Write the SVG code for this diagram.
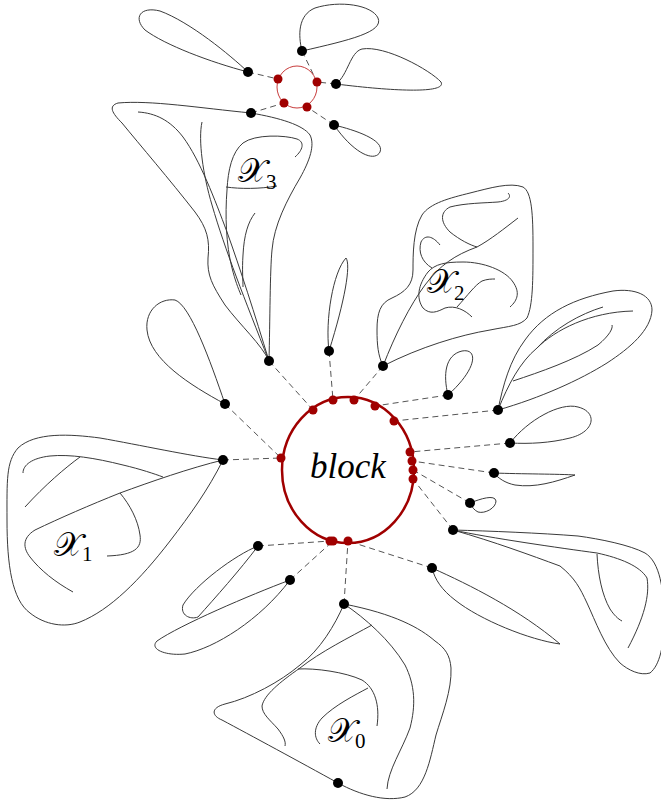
<svg xmlns="http://www.w3.org/2000/svg" width="661" height="804" viewBox="0 0 661 804">
<style>
.c{fill:none;stroke:#3a3a3a;stroke-width:1}
.d{fill:none;stroke:#555;stroke-width:1;stroke-dasharray:6 4}
.bk{fill:#000}
.rd{fill:#a00000}
.lbl{font-family:"DejaVu Serif","DejaVu Sans",serif;font-size:33px;fill:#000}
.sub{font-family:"Liberation Serif",serif;font-size:21px;fill:#000}
</style>
<rect width="661" height="804" fill="#fff"/>
<g id="connectors">
<line class="d" x1="269" y1="361" x2="313" y2="410"/>
<line class="d" x1="329" y1="351" x2="333" y2="400"/>
<line class="d" x1="383" y1="366" x2="354" y2="400"/>
<line class="d" x1="448" y1="395" x2="375" y2="406"/>
<line class="d" x1="498" y1="410" x2="394" y2="421"/>
<line class="d" x1="510" y1="443" x2="410" y2="452"/>
<line class="d" x1="494" y1="473" x2="412" y2="461"/>
<line class="d" x1="470" y1="503" x2="413" y2="470"/>
<line class="d" x1="453" y1="530" x2="413" y2="479"/>
<line class="d" x1="225" y1="404" x2="281" y2="458"/>
<line class="d" x1="223" y1="460" x2="281" y2="458"/>
<line class="d" x1="258" y1="546" x2="330" y2="541"/>
<line class="d" x1="290" y1="580" x2="333" y2="541"/>
<line class="d" x1="344" y1="604" x2="348" y2="541"/>
<line class="d" x1="432" y1="568" x2="348" y2="541"/>
<line class="d" x1="302" y1="51" x2="317" y2="82"/>
<line class="d" x1="248" y1="72" x2="278" y2="79"/>
<line class="d" x1="336" y1="84" x2="317" y2="82"/>
<line class="d" x1="251" y1="113" x2="284" y2="103"/>
<line class="d" x1="334" y1="125" x2="307" y2="107"/>
</g>
<g id="block">
<ellipse cx="348" cy="470" rx="66" ry="73" fill="none" stroke="#a00000" stroke-width="2.5"/>
<text x="348" y="478" text-anchor="middle" font-family="Liberation Serif,serif" font-style="italic" font-size="35">block</text>
<circle class="rd" cx="313" cy="410" r="4.5"/>
<circle class="rd" cx="333" cy="400" r="4.5"/>
<circle class="rd" cx="354" cy="400" r="4.5"/>
<circle class="rd" cx="375" cy="406" r="4.5"/>
<circle class="rd" cx="394" cy="421" r="4.5"/>
<circle class="rd" cx="281" cy="458" r="4.5"/>
<circle class="rd" cx="410" cy="452" r="4.5"/>
<circle class="rd" cx="412" cy="461" r="4.5"/>
<circle class="rd" cx="413" cy="470" r="4.5"/>
<circle class="rd" cx="413" cy="479" r="4.5"/>
<circle class="rd" cx="330" cy="541" r="4.5"/>
<circle class="rd" cx="333" cy="541" r="4.5"/>
<circle class="rd" cx="348" cy="541" r="4.5"/>
</g>
<g id="small-block">
<ellipse cx="297" cy="87" rx="20" ry="21" fill="none" stroke="#c83c3c" stroke-width="1"/>
<circle class="rd" cx="278" cy="79" r="4.5"/>
<circle class="rd" cx="317" cy="82" r="4.5"/>
<circle class="rd" cx="284" cy="103" r="4.5"/>
<circle class="rd" cx="307" cy="107" r="4.5"/>
</g>
<g id="loop-top-left">
<path class="c" d="M248,72 C230,55 190,22 160,11 C140,6 133,18 145,30 C165,45 210,62 248,72"/>
<circle class="bk" cx="248" cy="72" r="5"/>
</g>
<g id="loop-top">
<path class="c" d="M302,51 C298,35 298,15 315,8 C340,0 372,5 378,18 C384,32 350,40 302,51"/>
<circle class="bk" cx="302" cy="51" r="5"/>
</g>
<g id="loop-top-right">
<path class="c" d="M336,84 C348,75 350,52 362,49 C385,45 430,70 441,82 C447,93 400,92 336,84"/>
<circle class="bk" cx="336" cy="84" r="5"/>
</g>
<g id="loop-small-top">
<path class="c" d="M334,125 C355,130 385,140 380,152 C375,162 355,155 334,125"/>
<circle class="bk" cx="334" cy="125" r="5"/>
</g>
<g id="X3">
<path class="c" d="M251,113 C200,108 150,100 118,103 C108,106 112,113 122,123 C140,145 170,180 195,212 C207,228 210,240 208,258 C207,275 212,285 225,305 C240,325 262,345 269,361 C270,320 270,270 272,250 C274,225 287,200 300,178 C310,160 315,145 310,135 C303,125 280,118 251,113"/>
<path class="c" d="M138,112 C155,113 170,120 183,137 C200,160 215,200 227,232 C240,268 255,315 269,361"/>
<path class="c" d="M202,122 C198,140 203,175 212,205 C225,250 245,300 269,361"/>
<path class="c" d="M295,157 C303,150 305,142 297,139 C285,135 255,134 243,143 C232,152 228,170 227,190 C225,215 226,245 232,268 C235,280 238,288 241,295"/>
<path class="c" d="M255,213 C248,222 244,235 243,255 C242,270 243,280 243,287"/>
<path class="c" d="M226,187 C240,189 260,189 277,186"/>
<text class="lbl" x="238" y="182">𝒳</text><text class="sub" x="266" y="189">3</text>
<circle class="bk" cx="251" cy="113" r="5"/>
<circle class="bk" cx="269" cy="361" r="5"/>
</g>
<g id="X2">
<path class="c" d="M383,366 C378,355 377,345 377,330 C377,313 380,303 392,298 C405,292 413,285 413,270 C413,255 413,230 422,215 C430,203 450,198 470,193 C490,188 510,182 523,187 C532,192 533,215 533,247 C533,280 533,305 527,318 C520,326 510,326 490,330 C460,335 420,347 383,366"/>
<path class="c" d="M383,366 C395,335 410,305 425,285 C440,265 455,255 477,247 C490,240 505,228 518,218"/>
<path class="c" d="M508,193 C512,197 508,201 498,202 C485,203 465,203 450,207 C440,212 440,222 450,232 C460,240 470,245 477,247"/>
<path class="c" d="M440,245 C433,236 425,234 421,242 C418,252 422,262 432,268"/>
<path class="c" d="M472,317 C465,310 455,305 445,308 C437,312 430,315 423,308 C416,298 418,285 428,272 C435,264 445,262 463,262 C483,262 505,270 513,282 C520,292 518,300 510,307"/>
<path class="c" d="M457,307 C468,295 475,285 482,281 C487,279 492,279 495,279"/>
<text class="lbl" x="427" y="293">𝒳</text><text class="sub" x="454" y="300">2</text>
<circle class="bk" cx="383" cy="366" r="5"/>
</g>
<g id="loop-thin">
<path class="c" d="M329,351 C325,320 333,272 346,258 C351,265 345,300 329,351"/>
<circle class="bk" cx="329" cy="351" r="5"/>
</g>
<g id="loop-left">
<path class="c" d="M225,404 C190,385 150,360 147,330 C145,310 160,298 175,300 C190,305 210,360 225,404"/>
<circle class="bk" cx="225" cy="404" r="5"/>
</g>
<g id="X1">
<path class="c" d="M223,460 C190,456 140,445 100,438 C70,434 35,432 18,448 C6,462 7,480 7,520 C7,565 12,600 30,613 C45,625 65,628 80,622 C110,610 140,580 170,541 C190,515 208,490 223,460"/>
<path class="c" d="M223,460 C190,468 150,482 120,493 C90,505 60,518 35,530 C22,538 23,548 30,557 C40,570 55,582 73,592"/>
<path class="c" d="M23,473 C23,465 32,458 50,456 C70,454 95,458 123,465 C140,469 155,474 163,477"/>
<path class="c" d="M80,457 C65,468 45,485 25,507"/>
<path class="c" d="M120,493 C130,505 138,520 140,535 C142,548 135,555 107,556"/>
<text class="lbl" x="54" y="556">𝒳</text><text class="sub" x="82" y="561">1</text>
<circle class="bk" cx="223" cy="460" r="5"/>
</g>
<g id="loop-lower-left-1">
<path class="c" d="M258,546 C235,555 195,585 183,605 C180,615 190,620 198,617 C215,598 240,570 258,546"/>
<circle class="bk" cx="258" cy="546" r="5"/>
</g>
<g id="loop-lower-left-2">
<path class="c" d="M290,580 C250,595 180,625 157,641 C149,649 165,656 185,654 C215,648 260,620 290,580"/>
<circle class="bk" cx="290" cy="580" r="5"/>
</g>
<g id="X0">
<path class="c" d="M344,604 C335,625 320,650 300,665 C280,682 250,698 225,704 C210,708 212,716 222,720 C250,735 300,762 338,783 C360,795 385,802 405,797 C425,790 430,760 436,735 C442,715 452,690 451,668 C450,655 445,648 435,641 C420,628 395,614 344,604"/>
<path class="c" d="M344,604 C365,618 390,640 405,665 C415,685 416,705 410,728 C402,750 388,770 387,789"/>
<path class="c" d="M372,625 C350,637 320,652 300,668 C280,682 264,695 262,706 C262,714 270,720 278,729 C284,737 286,742 285,746"/>
<path class="c" d="M298,669 C315,668 345,672 362,680 C375,688 380,705 377,726"/>
<path class="c" d="M368,688 C355,695 335,705 322,718 C313,728 314,738 320,744"/>
<text class="lbl" x="328" y="742">𝒳</text><text class="sub" x="355" y="748">0</text>
<circle class="bk" cx="344" cy="604" r="5"/>
<circle class="bk" cx="338" cy="783" r="5"/>
</g>
<g id="loop-right-small">
<path class="c" d="M448,395 C443,375 445,355 462,351 C478,348 478,368 448,395"/>
<circle class="bk" cx="448" cy="395" r="5"/>
</g>
<g id="loop-right-big">
<path class="c" d="M498,410 C503,385 510,360 525,340 C545,312 575,298 613,291 C635,288 652,295 652,310 C651,330 630,348 607,363 C580,380 540,398 498,410"/>
<path class="c" d="M498,410 C508,385 520,362 537,348 C555,330 590,312 633,311"/>
<path class="c" d="M537,348 C555,328 580,314 603,307"/>
<path class="c" d="M513,381 C540,372 575,360 598,345 C610,335 613,328 612,325"/>
<circle class="bk" cx="498" cy="410" r="5"/>
</g>
<g id="loop-right-2">
<path class="c" d="M510,443 C528,420 560,402 578,407 C598,412 595,432 570,438 C550,443 530,444 510,443"/>
<circle class="bk" cx="510" cy="443" r="5"/>
</g>
<g id="loop-right-3">
<path class="c" d="M494,473 C520,474 560,474 575,475 C555,482 535,488 515,485 C505,483 498,478 494,473"/>
<circle class="bk" cx="494" cy="473" r="5"/>
</g>
<g id="loop-right-4">
<path class="c" d="M470,503 C480,499 495,494 496,501 C496,508 485,514 478,512 C474,510 472,507 470,503"/>
<circle class="bk" cx="470" cy="503" r="5"/>
</g>
<g id="blob-right-lower">
<path class="c" d="M453,530 C490,531 540,533 578,536 C600,539 630,545 645,553 C660,562 664,590 664,620 C664,645 660,665 650,673 C640,676 628,670 620,663 C605,648 595,620 587,603 C580,588 575,578 560,566 C530,555 495,542 453,530"/>
<path class="c" d="M453,530 C490,538 560,548 597,553 C620,558 640,566 647,578 C650,595 644,618 628,648"/>
<path class="c" d="M597,554 C598,575 602,595 610,609 C614,615 618,619 622,621"/>
<circle class="bk" cx="453" cy="530" r="5"/>
</g>
<g id="loop-lower-right">
<path class="c" d="M432,568 C470,585 520,610 560,644 C530,640 480,620 455,600 C442,590 435,580 432,568"/>
<circle class="bk" cx="432" cy="568" r="5"/>
</g>
</svg>
